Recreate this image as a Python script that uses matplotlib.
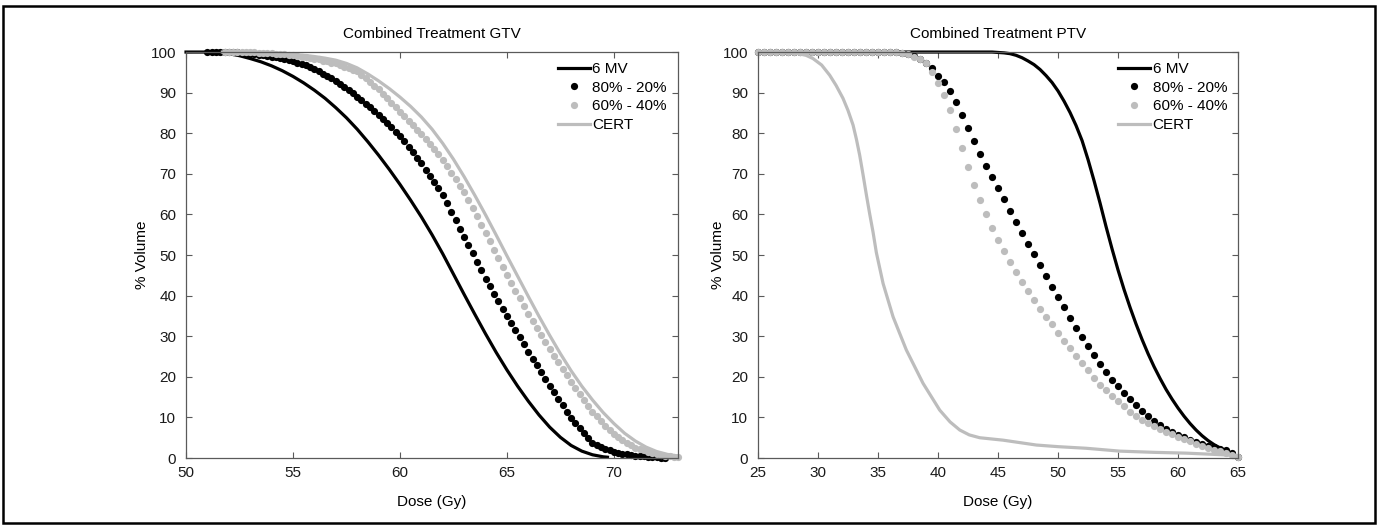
import matplotlib
matplotlib.use('Agg')
import matplotlib.pyplot as plt
from matplotlib.patches import Rectangle

plt.rcParams['font.family'] = ['Liberation Sans', 'DejaVu Sans']
plt.rcParams['font.size'] = 11

GREY = '#bdbdbd'
AXIS_GREY = '#5a5a5a'

series_labels = ['6 MV', '80% - 20%', '60% - 40%', 'CERT']

######## GTV data ########

gtv_6mv_dose = [50, 50.5, 51, 51.5, 52, 52.5, 53, 53.5, 54, 54.5, 55, 55.5, 56, 56.5, 57, 57.5,
                58, 58.5, 59, 59.5, 60, 60.5, 61, 61.5, 62, 62.5, 63, 63.5, 64, 64.5, 65, 65.5,
                66, 66.5, 67, 67.5, 68, 68.5, 69, 69.5, 69.7]
gtv_6mv_vol = [100, 100, 100, 99.9, 99.6, 99.1, 98.4, 97.6, 96.6, 95.4, 94.0, 92.4, 90.6, 88.6,
               86.3, 83.8, 81.0, 77.9, 74.6, 71.1, 67.4, 63.5, 59.4, 55.0, 50.3, 45.3, 40.3, 35.4,
               30.6, 26.0, 21.7, 17.7, 14.0, 10.6, 7.6, 5.1, 3.1, 1.7, 0.8, 0.3, 0.2]

gtv_8020_dose = [51.0, 51.2, 51.4, 51.6, 51.8, 52.0, 52.2, 52.4, 52.6, 52.8,
                 53.0, 53.2, 53.4, 53.6, 53.8, 54.0, 54.2, 54.4, 54.6, 54.8,
                 55.0, 55.2, 55.4, 55.6, 55.8, 56.0, 56.2, 56.4, 56.6, 56.8,
                 57.0, 57.2, 57.4, 57.6, 57.8, 58.0, 58.2, 58.4, 58.6, 58.8,
                 59.0, 59.2, 59.4, 59.6, 59.8, 60.0, 60.2, 60.4, 60.6, 60.8,
                 61.0, 61.2, 61.4, 61.6, 61.8, 62.0, 62.2, 62.4, 62.6, 62.8,
                 63.0, 63.2, 63.4, 63.6, 63.8, 64.0, 64.2, 64.4, 64.6, 64.8,
                 65.0, 65.2, 65.4, 65.6, 65.8, 66.0, 66.2, 66.4, 66.6, 66.8,
                 67.0, 67.2, 67.4, 67.6, 67.8, 68.0, 68.2, 68.4, 68.6, 68.8,
                 69.0, 69.2, 69.4, 69.6, 69.8, 70.0, 70.2, 70.4, 70.6, 70.8,
                 71.0, 71.2, 71.4, 71.6, 71.8, 72.0, 72.2, 72.4]
gtv_8020_vol = [100, 100, 100, 100, 100, 100, 99.9, 99.9, 99.8, 99.7,
                99.6, 99.5, 99.3, 99.2, 99.0, 98.9, 98.7, 98.5, 98.3, 98.0,
                97.8, 97.4, 97.1, 96.7, 96.3, 95.9, 95.3, 94.7, 94.1, 93.5,
                92.9, 92.1, 91.3, 90.6, 89.8, 89.0, 88.1, 87.3, 86.4, 85.5,
                84.6, 83.6, 82.5, 81.5, 80.4, 79.4, 78.0, 76.7, 75.3, 74.0,
                72.6, 71.0, 69.5, 67.9, 66.4, 64.8, 62.7, 60.6, 58.6, 56.5,
                54.5, 52.4, 50.4, 48.3, 46.2, 44.2, 42.3, 40.5, 38.7, 36.8,
                35.0, 33.2, 31.5, 29.7, 28.0, 26.2, 24.5, 22.8, 21.2, 19.5,
                17.8, 16.2, 14.6, 13.0, 11.4, 9.8, 8.6, 7.4, 6.2, 5.0,
                3.8, 3.3, 2.8, 2.3, 1.9, 1.4, 1.2, 1.0, 0.9, 0.7,
                0.6, 0.5, 0.4, 0.3, 0.3, 0.2, 0.1, 0.0]

gtv_6040_dose = [51.8, 52.0, 52.2, 52.4, 52.6, 52.8,
                 53.0, 53.2, 53.4, 53.6, 53.8, 54.0, 54.2, 54.4, 54.6, 54.8,
                 55.0, 55.2, 55.4, 55.6, 55.8, 56.0, 56.2, 56.4, 56.6, 56.8,
                 57.0, 57.2, 57.4, 57.6, 57.8, 58.0, 58.2, 58.4, 58.6, 58.8,
                 59.0, 59.2, 59.4, 59.6, 59.8, 60.0, 60.2, 60.4, 60.6, 60.8,
                 61.0, 61.2, 61.4, 61.6, 61.8, 62.0, 62.2, 62.4, 62.6, 62.8,
                 63.0, 63.2, 63.4, 63.6, 63.8, 64.0, 64.2, 64.4, 64.6, 64.8,
                 65.0, 65.2, 65.4, 65.6, 65.8, 66.0, 66.2, 66.4, 66.6, 66.8,
                 67.0, 67.2, 67.4, 67.6, 67.8, 68.0, 68.2, 68.4, 68.6, 68.8,
                 69.0, 69.2, 69.4, 69.6, 69.8, 70.0, 70.2, 70.4, 70.6, 70.8,
                 71.0, 71.2, 71.4, 71.6, 71.8, 72.0, 72.2, 72.4, 72.6, 72.8, 73.0]
gtv_6040_vol = [100, 100, 100, 100, 99.9, 99.9,
                99.9, 99.9, 99.8, 99.8, 99.7, 99.7, 99.6, 99.5, 99.4, 99.3,
                99.2, 99.0, 98.9, 98.7, 98.6, 98.4, 98.2, 97.9, 97.7, 97.4,
                97.2, 96.8, 96.4, 96.1, 95.7, 95.3, 94.4, 93.6, 92.6, 91.7,
                90.8, 89.7, 88.6, 87.5, 86.4, 85.3, 84.2, 83.1, 82.0, 80.9,
                79.8, 78.5, 77.3, 76.0, 74.8, 73.5, 71.9, 70.3, 68.7, 67.1,
                65.5, 63.5, 61.5, 59.5, 57.5, 55.5, 53.4, 51.3, 49.2, 47.1,
                45.0, 43.1, 41.2, 39.3, 37.4, 35.5, 33.8, 32.0, 30.3, 28.5,
                26.8, 25.2, 23.6, 22.0, 20.4, 18.8, 17.3, 15.8, 14.4, 12.9,
                11.4, 10.3, 9.1, 8.0, 6.9, 5.8, 5.1, 4.5, 3.8, 3.2,
                2.5, 2.2, 1.9, 1.5, 1.2, 0.9, 0.8, 0.6, 0.5, 0.3, 0.2]

gtv_cert_dose = [51.7, 52, 52.5, 53, 53.5, 54, 54.5, 55, 55.5, 56, 56.5, 57, 57.5, 58, 58.5,
                 59, 59.5, 60, 60.5, 61, 61.5, 62, 62.5, 63, 63.5, 64, 64.5, 65, 65.5, 66,
                 66.5, 67, 67.5, 68, 68.5, 69, 69.5, 70, 70.5, 71, 71.5, 72, 72.5, 73]
gtv_cert_vol = [100, 100, 100, 99.9, 99.8, 99.7, 99.6, 99.4, 99.2, 98.9, 98.5, 98.0, 97.2, 96.1,
                94.6, 92.9, 91.0, 88.9, 86.6, 84.0, 81.0, 77.5, 73.6, 69.3, 64.7, 59.9, 54.9,
                49.8, 44.8, 39.8, 34.9, 30.2, 25.7, 21.5, 17.7, 14.3, 11.2, 8.5, 6.1, 4.2, 2.7,
                1.6, 0.9, 0.5]

######## PTV data ########

ptv_6mv_dose = [25, 44, 44.5, 45, 45.5, 46, 46.5, 47, 47.5, 48, 48.5, 49, 49.5, 50, 50.5, 51,
                51.5, 52, 52.5, 53, 53.5, 54, 54.5, 55, 55.5, 56, 56.5, 57, 57.5, 58, 58.5, 59,
                59.5, 60, 60.5, 61, 61.5, 62, 62.5, 63, 63.5, 64, 64.5, 65]
ptv_6mv_vol = [100, 100, 100, 99.9, 99.8, 99.6, 99.2, 98.6, 97.8, 96.9, 95.7, 94.2, 92.5, 90.4,
               87.9, 85.1, 81.9, 78.2, 73.5, 68.3, 62.8, 57.0, 51.5, 46.3, 41.5, 37.1, 33.0,
               29.2, 25.7, 22.5, 19.6, 16.9, 14.5, 12.3, 10.3, 8.5, 6.9, 5.5, 4.3, 3.3, 2.5,
               1.8, 1.1, 0.3]

# dotted plans are sampled on the same dose grid
ptv_dot_dose = [25.0, 25.5, 26.0, 26.5, 27.0, 27.5, 28.0, 28.5, 29.0, 29.5,
                30.0, 30.5, 31.0, 31.5, 32.0, 32.5, 33.0, 33.5, 34.0, 34.5,
                35.0, 35.5, 36.0, 36.5, 37.0, 37.5, 38.0, 38.5, 39.0, 39.5,
                40.0, 40.5, 41.0, 41.5, 42.0, 42.5, 43.0, 43.5, 44.0, 44.5,
                45.0, 45.5, 46.0, 46.5, 47.0, 47.5, 48.0, 48.5, 49.0, 49.5,
                50.0, 50.5, 51.0, 51.5, 52.0, 52.5, 53.0, 53.5, 54.0, 54.5,
                55.0, 55.5, 56.0, 56.5, 57.0, 57.5, 58.0, 58.5, 59.0, 59.5,
                60.0, 60.5, 61.0, 61.5, 62.0, 62.5, 63.0, 63.5, 64.0, 64.5, 65.0]
ptv_8020_vol = [100, 100, 100, 100, 100, 100, 100, 100, 100, 100,
                100, 100, 100, 100, 100, 100, 100, 100, 100, 100,
                100, 100, 100, 99.9, 99.8, 99.5, 99.1, 98.4, 97.4, 96.0,
                94.2, 92.7, 90.5, 87.7, 84.4, 81.2, 78.0, 74.9, 72.0, 69.1,
                66.5, 63.8, 60.9, 58.2, 55.4, 52.7, 50.3, 47.5, 44.8, 42.2,
                39.7, 37.3, 34.6, 32.1, 29.9, 27.6, 25.3, 23.2, 21.3, 19.3,
                17.8, 16.0, 14.6, 13.1, 11.6, 10.3, 9.2, 8.2, 7.2, 6.4,
                5.7, 5.1, 4.5, 3.9, 3.4, 2.9, 2.6, 2.3, 2.0, 1.2, 0.3]
ptv_6040_vol = [100, 100, 100, 100, 100, 100, 100, 100, 100, 100,
                100, 100, 100, 100, 100, 100, 100, 100, 100, 100,
                100, 100, 100, 99.9, 99.7, 99.4, 98.9, 98.2, 97.3, 95.1,
                92.3, 89.3, 85.8, 81.1, 76.3, 71.6, 67.2, 63.5, 60.0, 56.6,
                53.6, 50.9, 48.3, 45.8, 43.4, 41.1, 39.0, 36.8, 34.7, 32.9,
                30.8, 28.9, 27.0, 25.2, 23.4, 21.7, 19.8, 18.1, 16.7, 15.3,
                14.0, 12.7, 11.4, 10.3, 9.4, 8.6, 7.9, 7.1, 6.3, 5.8,
                5.2, 4.7, 4.1, 3.5, 2.9, 2.5, 2.1, 1.7, 1.3, 0.8, 0.3]

ptv_cert_dose = [25, 27, 28.19, 29.0, 29.58, 30.3, 30.97, 31.5, 32.08, 32.5, 32.92, 33.2, 33.47,
                 33.75, 34.03, 34.3, 34.58, 34.86, 35.42, 36.25, 37.36, 38.75, 40.14, 41.0,
                 41.81, 42.6, 43.47, 45.42, 48.19, 50.0, 52.36, 55.14, 58.0, 60.69, 63.0, 65.0]
ptv_cert_vol = [100, 100, 99.7, 99.2, 98.4, 96.8, 94.3, 91.8, 88.6, 85.6, 82.0, 78.5, 74.6,
                69.8, 64.8, 60.2, 55.7, 50.6, 43.0, 34.8, 26.6, 18.4, 11.8, 8.9,
                6.9, 5.7, 5.0, 4.4, 3.2, 2.8, 2.4, 1.7, 1.4, 1.2, 0.9, 0.6]


def dvh_panel(ax, title, xlim, xticks, d6, v6, d82, v82, d64, v64, dc, vc):
    '''
    Draws the four cumulative DVH curves of one structure with MATLAB-like axes.
    '''
    ax.plot(d6, v6, color='black', lw=2.3, label=series_labels[0], clip_on=False)
    ax.plot(d82, v82, ls='none', marker='o', ms=5.2, mew=0, color='black',
            label=series_labels[1], clip_on=False)
    ax.plot(d64, v64, ls='none', marker='o', ms=5.2, mew=0, color=GREY,
            label=series_labels[2], clip_on=False)
    ax.plot(dc, vc, color=GREY, lw=2.3, label=series_labels[3], clip_on=False)

    ax.set_xlim(xlim)
    ax.set_ylim(0, 100)
    ax.set_xticks(xticks)
    ax.set_yticks(range(0, 101, 10))
    ax.tick_params(direction='in', top=True, right=True, length=4, width=0.8,
                   color=AXIS_GREY, labelcolor='#1a1a1a')
    ax.tick_params(axis='x', pad=6)
    ax.tick_params(axis='y', pad=7)
    for s in ax.spines.values():
        s.set_color(AXIS_GREY)
        s.set_linewidth(0.9)

    ax.set_title(title, fontsize=11, pad=10)
    ax.set_xlabel('Dose (Gy)')
    ax.set_ylabel('% Volume')
    ax.xaxis.set_label_coords(0.5, -0.09)

    ax.legend(loc='upper right', bbox_to_anchor=(0.977, 0.975), frameon=False,
              borderpad=0, borderaxespad=0, handlelength=2.1, handletextpad=0.15,
              labelspacing=0.3, numpoints=1)


fig = plt.figure(figsize=(13.81, 5.30), dpi=100)

ax1 = fig.add_axes([0.1347, 0.1358, 0.3563, 0.7660])
dvh_panel(ax1, 'Combined Treatment GTV', (50, 73), [50, 55, 60, 65, 70],
          gtv_6mv_dose, gtv_6mv_vol, gtv_8020_dose, gtv_8020_vol,
          gtv_6040_dose, gtv_6040_vol, gtv_cert_dose, gtv_cert_vol)
ax1.yaxis.set_label_coords(-0.075, 0.5)

ax2 = fig.add_axes([0.5489, 0.1358, 0.3476, 0.7660])
dvh_panel(ax2, 'Combined Treatment PTV', (25, 65), [25, 30, 35, 40, 45, 50, 55, 60, 65],
          ptv_6mv_dose, ptv_6mv_vol, ptv_dot_dose, ptv_8020_vol,
          ptv_dot_dose, ptv_6040_vol, ptv_cert_dose, ptv_cert_vol)
ax2.yaxis.set_label_coords(-0.069, 0.5)

# frame round the whole figure
fig.add_artist(Rectangle((3 / 1381, 1 - 523 / 530), 1372 / 1381, 517 / 530,
                         transform=fig.transFigure, fill=False, lw=1.8, ec='black'))

fig.savefig('out.png', dpi=100)
